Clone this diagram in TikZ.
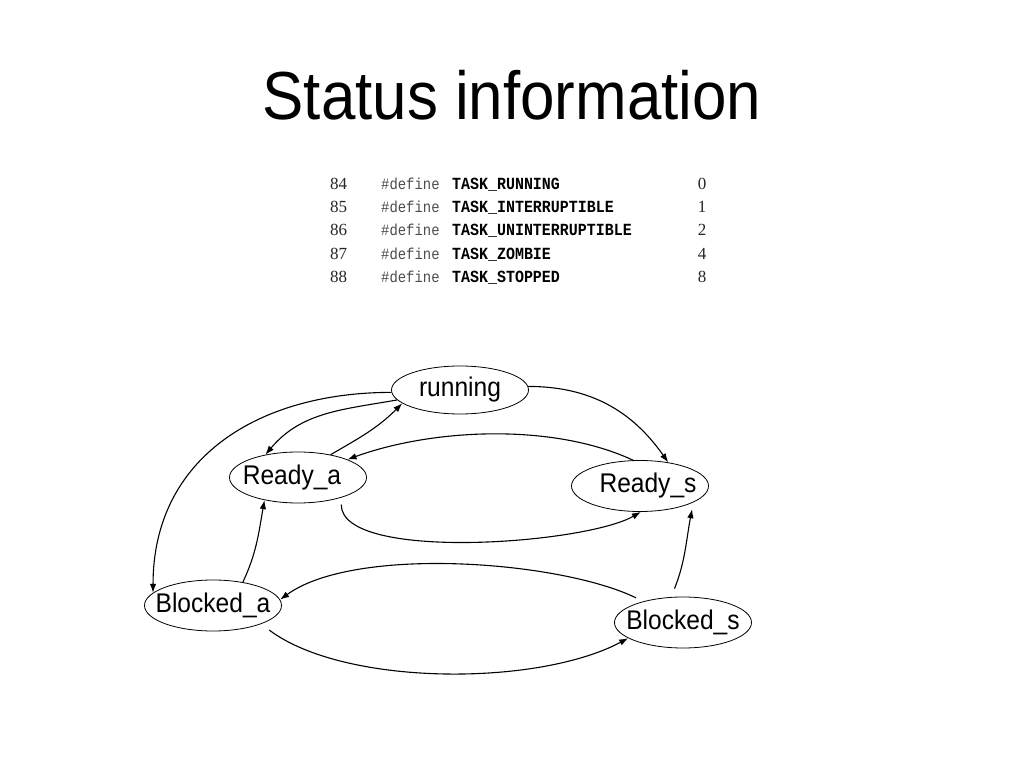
\documentclass[tikz,border=0pt]{standalone}
\usepackage{fontspec}
\setmainfont{Liberation Sans}[FakeStretch=0.91]
\newfontfamily\codefont{Liberation Mono}[FakeStretch=0.88]
\newfontfamily\numfont{Liberation Serif}
\usetikzlibrary{shapes.geometric,arrows.meta}
\newcommand{\stname}[2][0pt]{\makebox[0pt]{\hspace*{#1}\hspace*{#1}#2}}

\begin{document}
\begin{tikzpicture}[
  x=1pt, y=1pt,
  state/.style={ellipse, draw, line width=0.8pt, minimum width=137pt, minimum height=51pt, inner sep=0pt, font=\fontsize{27}{30}\selectfont},
  trans/.style={-{Latex[length=9pt,width=6.5pt]}, line width=1.1pt},
  lineno/.style={anchor=base west, inner sep=0pt, font=\numfont\fontsize{17}{20}\selectfont, text=black!85},
  define/.style={anchor=base west, inner sep=0pt, font=\codefont\fontsize{15.8}{20}\selectfont, text=black!70},
  macro/.style={anchor=base west, inner sep=0pt, font=\codefont\bfseries\fontsize{17}{20}\selectfont},
  value/.style={anchor=base, inner sep=0pt, font=\numfont\fontsize{17}{20}\selectfont, text=black!85}
]
\useasboundingbox (0,0) rectangle (1024,768);

% Title
\node[anchor=base, inner sep=0pt, font=\fontsize{68}{80}\selectfont] (title) at (512,648) {Status information};

% Task state defines
\foreach \num/\name/\val [count=\i from 0] in {84/TASK\_RUNNING/0, 85/TASK\_INTERRUPTIBLE/1,
    86/TASK\_UNINTERRUPTIBLE/2, 87/TASK\_ZOMBIE/4, 88/TASK\_STOPPED/8} {
  \node[lineno] (num\i) at (330,578.5-23.25*\i) {\num};
  \node[define] (def\i) at (381,578.5-23.25*\i) {\#define};
  \node[macro] (name\i) at (452,578.5-23.25*\i) {\name};
  \node[value] (val\i) at (702,578.5-23.25*\i) {\val};
}

% States
\node[state, minimum height=48pt] (running) at (460,378) {\stname{running}};
\node[state] (readya) at (298,290.5) {\stname[-6pt]{Ready\_a}};
\node[state] (readys) at (640,282) {\stname[8pt]{Ready\_s}};
\node[state] (blockeda) at (213,162.5) {\stname{Blocked\_a}};
\node[state] (blockeds) at (683,145.5) {\stname{Blocked\_s}};

% From running
\draw[trans] (running.182) to[out=180, in=90, looseness=1.1] (blockeda.168);
\draw[trans] (running.189) to[out=190, in=50] (readya.145);
\draw[trans] (running.3) to[out=0, in=125] (readys.40);

% Ready states
\draw[trans] (readya.35) to[out=30, in=225] (running.193);
\draw[trans] (readys.105) to[out=155, in=20, looseness=0.8] (readya.20);
\draw[trans, shorten <=7pt] (readya.-25) to[out=270, in=210, looseness=0.55] (readys.272);

% Blocked states
\draw[trans] (blockeda.38) to[out=65, in=260] (readya.214);
\draw[trans, shorten <=9pt, shorten >=7pt] (blockeds.115) to[out=68, in=259] (readys.-17);
\draw[trans, shorten <=8pt] (blockeds.152) to[out=154, in=36, looseness=0.65] (blockeda.5);
\draw[trans, shorten <=10pt] (blockeda.-21) to[out=-37, in=208, looseness=0.72] (blockeds.196);

\end{tikzpicture}
\end{document}
